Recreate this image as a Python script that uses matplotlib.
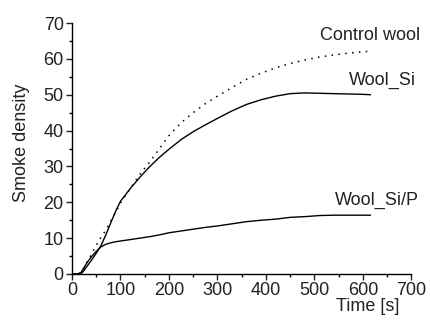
import matplotlib
matplotlib.use("Agg")
import matplotlib.pyplot as plt
from matplotlib.ticker import MultipleLocator

time_s = [0, 10, 18, 25, 30, 40, 50, 60, 70, 80, 90, 100, 120, 140, 160, 180, 200,
          225, 250, 275, 300, 330, 360, 390, 420, 450, 480, 510, 540, 570, 600, 615]
control_wool = [0, 0, 0.3, 1.8, 3.0, 5.5, 8.0, 10.3, 12.3, 14.8, 17.2, 19.8, 23.8, 27.8,
                31.2, 34.9, 38.6, 42.2, 45.0, 47.5, 49.6, 52.0, 54.3, 56.0, 57.5, 58.7,
                59.7, 60.5, 61.1, 61.6, 62.0, 62.1]
wool_si = [0, 0, 0, 1.0, 2.0, 3.8, 5.8, 8.0, 11.0, 14.3, 17.5, 20.3, 23.8, 27.0, 29.9,
           32.5, 34.8, 37.5, 39.7, 41.6, 43.4, 45.5, 47.3, 48.6, 49.6, 50.3, 50.5, 50.4,
           50.3, 50.2, 50.1, 50.0]
wool_si_p = [0, 0, 0.3, 1.8, 3.0, 4.8, 6.3, 7.6, 8.3, 8.7, 9.0, 9.2, 9.6, 10.0, 10.4,
             10.9, 11.5, 12.0, 12.5, 13.0, 13.4, 14.0, 14.6, 15.0, 15.3, 15.8, 16.0,
             16.3, 16.4, 16.4, 16.4, 16.4]

labels = ["Control wool", "Wool_Si", "Wool_Si/P"]
label_pos = [(615, 66.6), (641, 54.0), (629, 20.6)]

plt.rcParams['font.family'] = ['Liberation Sans', 'DejaVu Sans']
fig = plt.figure(figsize=(4.31, 3.2), dpi=100)
ax = fig.add_axes([72/431, 1-274/320, 339.5/431, 251/320])

ax.plot(time_s, control_wool, color='black', lw=1.1, linestyle=(0, (1, 3.5)))
ax.plot(time_s, wool_si, color='black', lw=1.0)
ax.plot(time_s, wool_si_p, color='black', lw=1.0)

for txt, (x, y) in zip(labels, label_pos):
    ax.text(x, y, txt, ha='center', va='center', fontsize=13, color='#222222')

ax.set_xlim(0, 700)
ax.set_ylim(0, 70)
ax.xaxis.set_major_locator(MultipleLocator(100))
ax.xaxis.set_minor_locator(MultipleLocator(50))
ax.yaxis.set_major_locator(MultipleLocator(10))
ax.yaxis.set_minor_locator(MultipleLocator(5))
for s in ['top', 'right']:
    ax.spines[s].set_visible(False)
for s in ['left', 'bottom']:
    ax.spines[s].set_linewidth(1.0)
ax.tick_params(which='major', direction='out', length=4, width=1, labelsize=13,
               colors='#222222', pad=2)
ax.tick_params(which='minor', direction='out', length=2.5, width=1)
ax.set_xlabel('Time [s]', fontsize=13, x=0.87, labelpad=-1, color='#222222')
ax.set_ylabel('Smoke density', fontsize=13, labelpad=10, y=0.522, color='#222222')
fig.savefig('out.png', dpi=100)
